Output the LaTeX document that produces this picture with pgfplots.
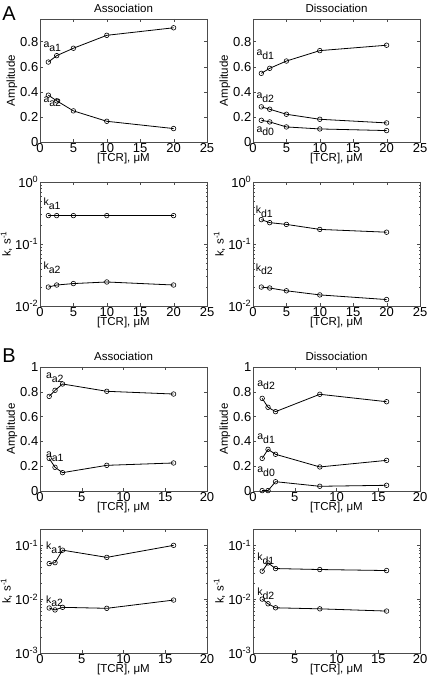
\documentclass[border=0pt]{standalone}
\usepackage{fontspec}
\setmainfont{Liberation Sans}
\usepackage{pgfplots}
\pgfplotsset{compat=1.18}

\newcommand{\lab}[2]{#1\raisebox{-0.7ex}{#2}}
\tikzset{labnode/.style={anchor=base west, inner sep=0pt, font=\fontsize{10.5}{12}\selectfont}}
\pgfplotscreateplotcyclelist{mylist}{black,line width=0.8pt,mark=o,mark size=2.3pt,mark options={solid,line width=0.6pt}\\}

\pgfplotsset{
  myfig/.style={
    scale only axis, width=167pt, anchor=south west,
    axis line style={black!70},
    tick style={black!70},
    major tick length=3pt, minor tick length=1.5pt,
    tick align=inside,
    xlabel style={font=\fontsize{11.5}{12}\selectfont, inner sep=1pt, yshift=1pt},
    ylabel style={font=\fontsize{11.5}{12}\selectfont, yshift=-2pt},
    xticklabel style={font=\fontsize{13}{13}\selectfont, inner sep=1pt},
    yticklabel style={font=\fontsize{13}{13}\selectfont, inner sep=1.5pt},
    /pgf/number format/assume math mode=true,
    xlabel={[TCR], μM},
    title style={yshift=-3pt, font=\fontsize{11.5}{12}\selectfont},
    cycle list name=mylist,
  },
  myampA/.style={myfig, height=123pt, xmin=0, xmax=25, xtick={0,5,10,15,20,25}, ymin=0, ymax=0.98, ytick={0,0.2,0.4,0.6,0.8}, ylabel={Amplitude}},
  mylogA/.style={myfig, height=124pt, xmin=0, xmax=25, xtick={0,5,10,15,20,25}, ymin=0.01, ymax=1, ytick={0.01,0.1,1}, yticklabels={10\textsuperscript{-2},10\textsuperscript{-1},10\textsuperscript{0}}, ylabel={k, s\textsuperscript{-1}}},
  myampB/.style={myfig, height=124pt, xmin=0, xmax=20, xtick={0,5,10,15,20}, ymin=0, ymax=1, ytick={0,0.2,0.4,0.6,0.8,1}, ylabel={Amplitude}},
  mylogB/.style={myfig, height=124pt, xmin=0, xmax=20, xtick={0,5,10,15,20}, ymin=0.001, ymax=0.2, ytick={0.001,0.01,0.1}, yticklabels={10\textsuperscript{-3},10\textsuperscript{-2},10\textsuperscript{-1}}, ylabel={k, s\textsuperscript{-1}}},
}

\begin{document}
\begin{tikzpicture}
\path[use as bounding box] (0pt,0pt) rectangle (426pt,685pt);

\node[font=\fontsize{20}{20}\selectfont, inner sep=0pt] at (9pt,671pt) {A};
\node[font=\fontsize{20}{20}\selectfont, inner sep=0pt] at (9pt,329pt) {B};

% ---------- A: amplitude association
\begin{axis}[myampA, at={(40pt,543pt)}, title={Association}]
\addplot coordinates {(1.25,0.637) (2.5,0.688) (5,0.747) (10,0.850) (20,0.910)};
\addplot coordinates {(1.25,0.373) (2.5,0.328) (5,0.248) (10,0.165) (20,0.107)};
\node[labnode] at (axis cs:0.5,0.75) {\lab{a}{a1}};
\node[labnode] at (axis cs:0.5,0.313) {\lab{a}{a2}};
\end{axis}

% ---------- A: amplitude dissociation
\begin{axis}[myampA, at={(253pt,543pt)}, title={Dissociation}]
\addplot coordinates {(1.25,0.547) (2.5,0.587) (5,0.645) (10,0.728) (20,0.771)};
\addplot coordinates {(1.25,0.280) (2.5,0.261) (5,0.221) (10,0.181) (20,0.152)};
\addplot coordinates {(1.25,0.173) (2.5,0.160) (5,0.120) (10,0.104) (20,0.091)};
\node[labnode] at (axis cs:0.5,0.692) {\lab{a}{d1}};
\node[labnode] at (axis cs:0.5,0.348) {\lab{a}{d2}};
\node[labnode] at (axis cs:0.5,0.079) {\lab{a}{d0}};
\end{axis}

% ---------- A: rates association
\begin{semilogyaxis}[mylogA, at={(40pt,379pt)}]
\addplot coordinates {(1.25,0.287) (2.5,0.287) (5,0.287) (10,0.287) (20,0.287)};
\addplot coordinates {(1.25,0.0202) (2.5,0.0218) (5,0.0230) (10,0.0244) (20,0.0218)};
\node[labnode] at (axis cs:0.5,0.414) {\lab{k}{a1}};
\node[labnode] at (axis cs:0.5,0.039) {\lab{k}{a2}};
\end{semilogyaxis}

% ---------- A: rates dissociation
\begin{semilogyaxis}[mylogA, at={(253pt,379pt)}]
\addplot coordinates {(1.25,0.247) (2.5,0.221) (5,0.207) (10,0.172) (20,0.155)};
\addplot coordinates {(1.25,0.0202) (2.5,0.0195) (5,0.0176) (10,0.0151) (20,0.0127)};
\node[labnode] at (axis cs:0.4,0.314) {\lab{k}{d1}};
\node[labnode] at (axis cs:0.4,0.0366) {\lab{k}{d2}};
\end{semilogyaxis}

% ---------- B: amplitude association
\begin{axis}[myampB, at={(40pt,194pt)}, title={Association}]
\addplot coordinates {(1.1,0.763) (1.8,0.812) (2.7,0.863) (8,0.804) (16,0.782)};
\addplot coordinates {(1.1,0.263) (1.8,0.191) (2.7,0.148) (8,0.207) (16,0.226)};
\node[labnode] at (axis cs:0.7,0.905) {\lab{a}{a2}};
\node[labnode] at (axis cs:0.7,0.273) {\lab{a}{a1}};
\end{axis}

% ---------- B: amplitude dissociation
\begin{axis}[myampB, at={(253pt,194pt)}, title={Dissociation}]
\addplot coordinates {(1.1,0.747) (1.8,0.675) (2.7,0.640) (8,0.780) (16,0.720)};
\addplot coordinates {(1.1,0.263) (1.8,0.336) (2.7,0.296) (8,0.194) (16,0.247)};
\addplot coordinates {(1.1,0.003) (1.8,0.003) (2.7,0.075) (8,0.038) (16,0.046)};
\node[labnode] at (axis cs:0.5,0.846) {\lab{a}{d2}};
\node[labnode] at (axis cs:0.5,0.415) {\lab{a}{d1}};
\node[labnode] at (axis cs:0.5,0.152) {\lab{a}{d0}};
\end{axis}

% ---------- B: rates association
\begin{semilogyaxis}[mylogB, at={(40pt,32pt)}]
\addplot coordinates {(1.1,0.0456) (1.8,0.0475) (2.7,0.081) (8,0.0595) (16,0.0995)};
\addplot coordinates {(1.1,0.00684) (1.8,0.0063) (2.7,0.00704) (8,0.00675) (16,0.0096)};
\node[labnode] at (axis cs:0.7,0.0845) {\lab{k}{a1}};
\node[labnode] at (axis cs:0.7,0.00845) {\lab{k}{a2}};
\end{semilogyaxis}

% ---------- B: rates dissociation
\begin{semilogyaxis}[mylogB, at={(253pt,32pt)}]
\addplot coordinates {(1.1,0.033) (1.8,0.0469) (2.7,0.0369) (8,0.0354) (16,0.0339)};
\addplot coordinates {(1.1,0.0100) (1.8,0.0082) (2.7,0.0069) (8,0.0066) (16,0.0060)};
\node[labnode] at (axis cs:0.5,0.051) {\lab{k}{d1}};
\node[labnode] at (axis cs:0.5,0.0118) {\lab{k}{d2}};
\end{semilogyaxis}
\end{tikzpicture}
\end{document}
